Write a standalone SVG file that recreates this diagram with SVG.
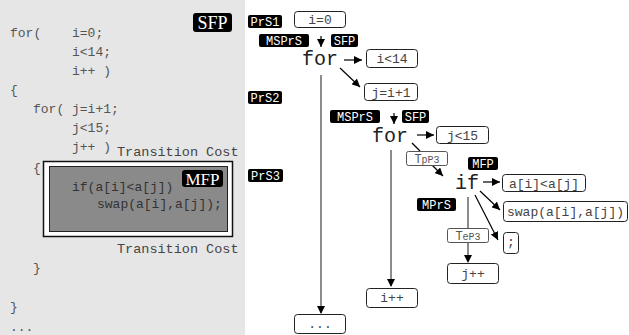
<svg xmlns="http://www.w3.org/2000/svg" width="629" height="335" viewBox="0 0 629 335">
<defs>
<marker id="ah" viewBox="0 0 8 8" refX="8" refY="4" markerWidth="8" markerHeight="8" markerUnits="userSpaceOnUse" orient="auto">
<path d="M0,0 L8,4 L0,8 Z" fill="#000"/>
</marker>
</defs>
<style>
.code{font-family:"Liberation Mono",monospace;font-size:13px;fill:#555}
.dk{fill:#333}
.tc{font-family:"Liberation Mono",monospace;font-size:13.5px;fill:#444}
.lab rect{fill:#000}
.lab text{font-family:"Liberation Mono",monospace;font-size:12px;fill:#fff;text-anchor:middle}
.slab text{font-family:"Liberation Serif",serif;fill:#fff;text-anchor:middle}
.box rect{fill:#fff;stroke:#222;stroke-width:1}
.box text{font-family:"Liberation Mono",monospace;font-size:13px;fill:#444;text-anchor:middle}
.tbox rect{fill:#fff;stroke:#555;stroke-width:1}
.tbox text{font-family:"Liberation Mono",monospace;fill:#555;text-anchor:middle}
.kw{font-family:"Liberation Mono",monospace;font-size:20px;fill:#222}
.arr{stroke:#000;stroke-width:1.2;fill:none}
.gl{stroke:#666;stroke-width:1.5;fill:none}
</style>
<g id="code-panel">
<rect x="0" y="0" width="245" height="335" fill="#e6e6e6"/>
<rect x="43.5" y="161.5" width="189" height="75" fill="#fff" stroke="#111" stroke-width="1.5"/>
<rect x="49.5" y="166.5" width="178" height="65" fill="#8a8a8a" stroke="#222" stroke-width="1"/>
<text class="code" x="10" y="37">for(</text>
<text class="code" x="72" y="37">i=0;</text>
<text class="code" x="72" y="56">i&lt;14;</text>
<text class="code" x="72" y="75">i++ )</text>
<text class="code" x="10" y="94">{</text>
<text class="code" x="33" y="113">for(</text>
<text class="code" x="72" y="113">j=i+1;</text>
<text class="code" x="72" y="132">j&lt;15;</text>
<text class="code" x="72" y="151">j++ )</text>
<text class="tc" x="117" y="156">Transition Cost</text>
<text class="code" x="33" y="172">{</text>
<text class="code dk" x="72" y="191">if(a[i]&lt;a[j])</text>
<text class="code dk" x="97" y="208">swap(a[i],a[j]);</text>
<text class="tc" x="117" y="253">Transition Cost</text>
<text class="code" x="33" y="272">}</text>
<text class="code" x="10" y="311">}</text>
<text class="code" x="10" y="331">...</text>
<g class="slab"><rect x="193" y="13" width="39" height="19" rx="3"/><text x="212.5" y="29" font-size="18">SFP</text></g>
<g class="slab"><rect x="182" y="170" width="41" height="17" rx="3"/><text x="202.5" y="185" font-size="17">MFP</text></g>
</g>
<g id="connectors">
<line class="arr" x1="321" y1="36" x2="321" y2="47" marker-end="url(#ah)"/>
<line class="arr" x1="344" y1="60" x2="362" y2="60" marker-end="url(#ah)"/>
<line class="arr" x1="340" y1="68" x2="360" y2="87" marker-end="url(#ah)"/>
<line class="gl" x1="321" y1="75" x2="321" y2="313"/>
<path d="M317,306 L325,306 L321,314 Z" fill="#000"/>
<line class="arr" x1="394" y1="113" x2="394" y2="124" marker-end="url(#ah)"/>
<line class="arr" x1="417" y1="135" x2="434" y2="135" marker-end="url(#ah)"/>
<line class="arr" x1="412" y1="143" x2="420" y2="151"/>
<line class="arr" x1="432" y1="165" x2="443" y2="176" marker-end="url(#ah)"/>
<line class="gl" x1="391" y1="150" x2="391" y2="286"/>
<path d="M387,279 L395,279 L391,287 Z" fill="#000"/>
<line class="arr" x1="483" y1="182" x2="500" y2="182" marker-end="url(#ah)"/>
<line class="arr" x1="480" y1="191" x2="500" y2="210" marker-end="url(#ah)"/>
<line class="arr" x1="475" y1="195" x2="498" y2="240" marker-end="url(#ah)"/>
<line class="gl" x1="468" y1="197" x2="468" y2="228"/>
<line class="gl" x1="468" y1="242" x2="468" y2="256"/>
<path d="M464,255 L472,255 L468,263 Z" fill="#000"/>
</g>
<g id="PrS1" class="lab"><rect x="248" y="15" width="34" height="13" rx="2"/><text x="265" y="25.5">PrS1</text></g>
<g id="PrS2" class="lab"><rect x="248" y="91" width="34" height="13" rx="2"/><text x="265" y="101.5">PrS2</text></g>
<g id="PrS3" class="lab"><rect x="248" y="169" width="35" height="13" rx="2"/><text x="265.5" y="179.5">PrS3</text></g>
<g id="MSPrS1" class="lab"><rect x="259" y="34" width="50" height="13" rx="2"/><text x="284" y="44.5">MSPrS</text></g>
<g id="SFP1" class="lab"><rect x="331" y="34" width="27" height="13" rx="2"/><text x="344.5" y="44.5">SFP</text></g>
<g id="MSPrS2" class="lab"><rect x="330" y="110" width="50" height="13" rx="2"/><text x="355" y="120.5">MSPrS</text></g>
<g id="SFP2" class="lab"><rect x="402" y="110" width="27" height="13" rx="2"/><text x="415.5" y="120.5">SFP</text></g>
<g id="MFP2" class="lab"><rect x="468" y="157" width="30" height="13" rx="2"/><text x="483" y="167.5">MFP</text></g>
<g id="MPrS" class="lab"><rect x="417" y="198" width="39" height="13" rx="2"/><text x="436.5" y="208.5">MPrS</text></g>
<g id="for1"><text class="kw" x="302" y="65">for</text></g>
<g id="for2"><text class="kw" x="372" y="142">for</text></g>
<g id="if"><text class="kw" x="455" y="189">if</text></g>
<g id="n-i0" class="box"><rect x="294.5" y="11.5" width="51" height="16" rx="3"/><text x="320" y="24">i=0</text></g>
<g id="n-i14" class="box"><rect x="366.5" y="49.5" width="51" height="18" rx="3"/><text x="392" y="63">i&lt;14</text></g>
<g id="n-ji1" class="box"><rect x="364.5" y="83.5" width="53" height="17" rx="3"/><text x="391" y="96.5">j=i+1</text></g>
<g id="n-j15" class="box"><rect x="436.5" y="126.5" width="52" height="17" rx="3"/><text x="462.5" y="139.5">j&lt;15</text></g>
<g id="n-tpp3" class="tbox"><rect x="406.5" y="151.5" width="41" height="14" rx="2"/><text x="427" y="162.5"><tspan font-size="12">T</tspan><tspan font-size="10">pP3</tspan></text></g>
<g id="n-cond" class="box"><rect x="502.5" y="174.5" width="83" height="17" rx="3"/><text x="544" y="187.5">a[i]&lt;a[j]</text></g>
<g id="n-swap" class="box"><rect x="503.5" y="201.5" width="124" height="20" rx="3"/><text x="565.5" y="215.5">swap(a[i],a[j])</text></g>
<g id="n-semi" class="box"><rect x="503.5" y="232.5" width="15" height="21" rx="3"/><text x="511" y="246">;</text></g>
<g id="n-tep3" class="tbox"><rect x="447.5" y="228.5" width="41" height="14" rx="2"/><text x="468" y="239.5"><tspan font-size="12">T</tspan><tspan font-size="10">eP3</tspan></text></g>
<g id="n-jpp" class="box"><rect x="447.5" y="263.5" width="51" height="20" rx="3"/><text x="473" y="277.5">j++</text></g>
<g id="n-ipp" class="box"><rect x="366.5" y="288.5" width="51" height="19" rx="3"/><text x="392" y="302">i++</text></g>
<g id="n-dots" class="box"><rect x="294.5" y="314.5" width="51" height="19" rx="3"/><text x="320" y="328">...</text></g>
</svg>
